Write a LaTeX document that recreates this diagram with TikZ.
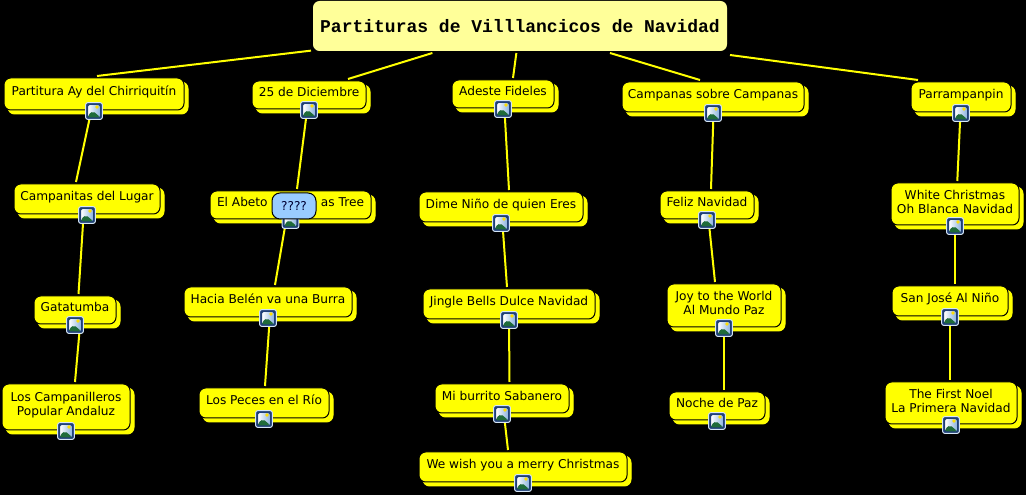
\documentclass[tikz,border=0pt]{standalone}
\usepackage{fontspec}
\setmainfont{DejaVu Sans}
\newfontfamily\titlefont{Liberation Mono}
\usepackage{tikz}
\usetikzlibrary{calc, shadows}
\usepackage{xcolor}
\definecolor{topicfill}{HTML}{FFFF00}
\definecolor{titlefill}{HTML}{FFFF99}
\definecolor{hintfill}{HTML}{99CCFF}
\definecolor{iconrim}{HTML}{D5E6F8}
\definecolor{iconline}{HTML}{1F3F77}
\definecolor{iconsky}{HTML}{8DB4DE}
\definecolor{iconhill}{HTML}{1F6B3A}

\begin{document}
\begin{tikzpicture}[
    x=0.75pt, y=-0.75pt,
    sz/.style 2 args={minimum width=#1*0.75pt, minimum height=#2*0.75pt},
    topic/.style={draw=black, line width=0.75pt, fill=topicfill, rounded corners=5pt, align=center, inner sep=0pt, outer sep=1.5pt,
        font=\fontsize{9.12}{11}\selectfont, text=black, text height=7pt, text depth=4pt,
        copy shadow={shadow xshift=3pt, shadow yshift=-3pt, fill=topicfill, draw=topicfill, opacity=1}},
    twoline/.style={text height=18pt},
    headbox/.style={fill=titlefill, rounded corners=5pt, inner sep=0pt, outer sep=1.5pt, font=\titlefont\bfseries\fontsize{13.5}{16}\selectfont, text=black},
    hint/.style={draw=black, line width=0.75pt, fill=hintfill, rounded corners=6pt, inner sep=0pt, font=\fontsize{9.12}{11}\selectfont, text=black!80!blue},
    link/.style={draw=topicfill, line width=1.5pt},
    imgicon/.style={draw=iconrim, line width=0.75pt, fill=iconline, rounded corners=1.5pt, inner sep=0pt, minimum size=12.5pt, yshift=0.75pt,
        path picture={
            \coordinate (c) at (path picture bounding box.center);
            \fill[left color=white, right color=iconsky] ($(c)+(-6,-6)$) rectangle ($(c)+(6,7)$);
            \fill[iconhill] ($(c)+(-6,7)$) -- ($(c)+(-6,4)$) -- ($(c)+(-1,0)$) -- ($(c)+(6,6)$) -- ($(c)+(6,7)$) -- cycle;
            \fill[yellow!80!orange] ($(c)+(3,-4)$) circle (1.4pt);
            \draw[iconline, line width=0.75pt] ($(c)+(-6.5,-6.5)$) rectangle ($(c)+(6.5,7)$);
        }}
]
    % ground
    \fill[black] (0,0) rectangle (1026,495);

    \node[headbox, sz={414}{50}] (head) at (520,26) {Partituras de Villlancicos de Navidad};

    % column 1
    \node[topic, sz={180}{32}] (partitura) at (94,94) {Partitura Ay del Chirriquitín};
    \node[topic, sz={146}{30}] (campanitas) at (87,199) {Campanitas del Lugar};
    \node[topic, sz={82}{28}] (gatatumba) at (75,310) {Gatatumba};
    \node[topic, twoline, sz={128}{46}, text depth=4.5pt] (campanilleros) at (66,407) {Los Campanilleros\hspace{3pt}\\Popular Andaluz};

    % column 2
    \node[topic, sz={114}{28}] (diciembre) at (309,95) {25 de Diciembre};
    \node[topic, sz={161}{28}] (abeto) at (290.5,205) {El Abeto\hspace{40pt}as Tree};
    \node[topic, sz={168}{30}] (hacia) at (268,302) {Hacia Belén va una Burra};
    \node[topic, sz={130}{30}] (peces) at (264,403) {Los Peces en el Río};

    % column 3
    \node[topic, sz={102}{28}] (adeste) at (503,94) {Adeste Fideles};
    \node[topic, sz={164}{30}] (dime) at (501,207) {Dime Niño de quien Eres};
    \node[topic, sz={172}{30}] (jingle) at (509,304) {Jingle Bells Dulce Navidad};
    \node[topic, sz={134}{29}] (burrito) at (502,398.5) {Mi burrito Sabanero};
    \node[topic, sz={208}{30}] (wish) at (523,467) {We wish you a merry Christmas};

    % column 4
    \node[topic, sz={182}{30}] (campanas) at (713,97) {Campanas sobre Campanas};
    \node[topic, sz={94}{28}] (feliz) at (707,205) {Feliz Navidad};
    \node[topic, twoline, sz={114}{43}] (joy) at (724,305.5) {Joy to the World\\Al Mundo Paz};
    \node[topic, sz={96}{28}] (noche) at (717,406) {Noche de Paz};

    % column 5
    \node[topic, sz={100}{30}] (parram) at (961,97) {Parrampanpin};
    \node[topic, twoline, sz={128}{42}, text depth=3pt] (white) at (955,204) {White Christmas\\Oh Blanca Navidad};
    \node[topic, sz={116}{30}] (sanjose) at (950,301) {San José Al Niño};
    \node[topic, twoline, sz={132}{42}, text depth=3pt] (noel) at (951,403) {The First Noel\\La Primera Navidad};

    % from the head
    \draw[link] (head) -- ($(partitura.north)+(3,0)$);
    \draw[link] (head) -- ($(diciembre.north)+(39,0)$);
    \draw[link] (head) -- ($(adeste.north)+(10,0)$);
    \draw[link] (head) -- ($(campanas.north)+(-13,0)$);
    \draw[link] ($(head.south east)+(1,2)$) -- ($(parram.north)+(-43,0)$);

    % down the columns
    \draw[link] ($(partitura.south)+(-3,0)$) -- ($(campanitas.north)+(-11,0)$);
    \draw[link] ($(campanitas.south)+(-3.5,0)$) -- ($(gatatumba.north)+(3.5,0)$);
    \draw[link] ($(gatatumba.south)+(5,0)$) -- ($(campanilleros.north)+(9,0)$);

    \draw[link] ($(diciembre.south)+(-2,0)$) -- ($(abeto.north)+(6.5,0)$);
    \draw[link] ($(abeto.south)+(-4.5,0)$) -- ($(hacia.north)+(7,0)$);
    \draw[link] ($(hacia.south)+(1.7,0)$) -- ($(peces.north)+(1,0)$);

    \draw[link] ($(adeste.south)+(1.5,0)$) -- ($(dime.north)+(8,0)$);
    \draw[link] ($(dime.south)+(1.5,0)$) -- ($(jingle.north)+(-2,0)$);
    \draw[link] ($(jingle.south)+(0,0)$) -- ($(burrito.north)+(7.5,0)$);
    \draw[link] ($(burrito.south)+(2,0)$) -- ($(wish.north)+(-15,0)$);

    \draw[link] ($(campanas.south)+(0.5,0)$) -- ($(feliz.north)+(4,0)$);
    \draw[link] ($(feliz.south)+(1.7,0)$) -- ($(joy.north)+(-9,0)$);
    \draw[link] ($(joy.south)+(0,0)$) -- ($(noche.north)+(7,0)$);

    \draw[link] ($(parram.south)+(-0.6,0)$) -- ($(white.north)+(2.3,0)$);
    \draw[link] ($(white.south)+(0,0)$) -- ($(sanjose.north)+(5,0)$);
    \draw[link] ($(sanjose.south)+(0,0)$) -- ($(noel.north)+(-1,0)$);

    % picture marks
    \node[imgicon] (partituraicon) at (partitura.south) {};
    \node[imgicon] (campanitasicon) at (campanitas.south) {};
    \node[imgicon] (gatatumbaicon) at (gatatumba.south) {};
    \node[imgicon] (campanillerosicon) at (campanilleros.south) {};
    \node[imgicon] (diciembreicon) at (diciembre.south) {};
    \node[imgicon] (abetoicon) at (abeto.south) {};
    \node[imgicon] (haciaicon) at (hacia.south) {};
    \node[imgicon] (pecesicon) at (peces.south) {};
    \node[imgicon] (adesteicon) at (adeste.south) {};
    \node[imgicon] (dimeicon) at (dime.south) {};
    \node[imgicon] (jingleicon) at (jingle.south) {};
    \node[imgicon] (burritoicon) at (burrito.south) {};
    \node[imgicon] (wishicon) at (wish.south) {};
    \node[imgicon] (campanasicon) at (campanas.south) {};
    \node[imgicon] (felizicon) at (feliz.south) {};
    \node[imgicon] (joyicon) at (joy.south) {};
    \node[imgicon] (nocheicon) at (noche.south) {};
    \node[imgicon] (parramicon) at (parram.south) {};
    \node[imgicon] (whiteicon) at (white.south) {};
    \node[imgicon] (sanjoseicon) at (sanjose.south) {};
    \node[imgicon] (noelicon) at (noel.south) {};

    \node[hint, sz={44}{26}] (abetohint) at (294,206) {????};
\end{tikzpicture}
\end{document}
